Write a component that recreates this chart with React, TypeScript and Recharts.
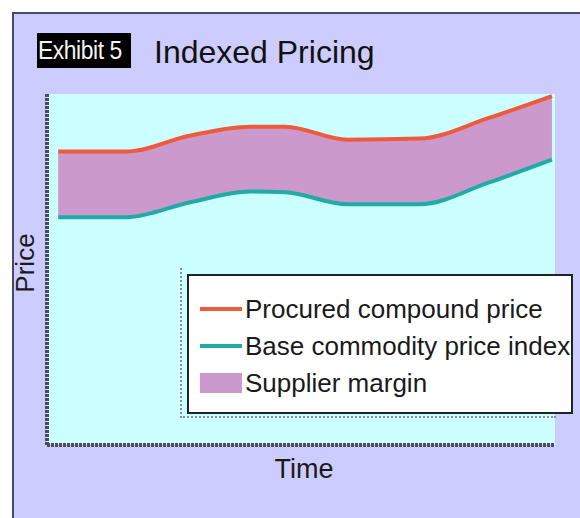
import React from 'react';
import { ComposedChart, Area, Line, XAxis, YAxis, CartesianGrid } from 'recharts';

const timePoints = [2.2, 15.7, 28, 40, 46.9, 59.1, 73.4, 87, 99.4];
const procuredPrice = [83.6, 83.6, 88.1, 90.7, 90.7, 87, 87.3, 93.2, 99.4];
const basePriceIndex = [64.9, 64.9, 69.1, 72.2, 72, 68.6, 68.6, 74.8, 81.3];

const legendItems = [
  { label: 'Procured compound price', kind: 'line', color: '#EE5A3C' },
  { label: 'Base commodity price index', kind: 'line', color: '#22ABA6' },
  { label: 'Supplier margin', kind: 'rect', color: '#CC99CC' },
];

const data = timePoints.map((t, i) => ({
  t,
  upper: procuredPrice[i],
  lower: basePriceIndex[i],
  margin: [basePriceIndex[i], procuredPrice[i]],
}));

const font = '"Liberation Sans", Arial, sans-serif';

const LegendBox = () => (
  <div
    style={{
      position: 'absolute',
      left: 187,
      top: 274,
      width: 382,
      height: 136,
      background: '#FFFFFF',
      border: '2px solid #222',
      fontFamily: font,
      fontSize: 26,
      color: '#1a1a1a',
      boxSizing: 'content-box',
    }}
  >
    {legendItems.map((it, i) => (
      <div
        key={it.label}
        style={{
          position: 'absolute',
          left: 11,
          top: 18 + i * 37,
          height: 30,
          display: 'flex',
          alignItems: 'center',
          whiteSpace: 'nowrap',
        }}
      >
        {it.kind === 'line' ? (
          <div style={{ width: 42, height: 4, background: it.color, marginRight: 3 }} />
        ) : (
          <div style={{ width: 42, height: 20, background: it.color, marginRight: 3 }} />
        )}
        <span>{it.label}</span>
      </div>
    ))}
  </div>
);

export default function App() {
  return (
    <div style={{ position: 'absolute', left: 0, top: 0, width: 580, height: 518, background: '#fff', overflow: 'hidden' }}>
      <div
        style={{
          position: 'absolute',
          left: 12,
          top: 12,
          width: 568,
          height: 506,
          background: '#CCCCFF',
          borderLeft: '2px solid #4A4A66',
          borderTop: '2px solid #4A4A66',
        }}
      />
      <div
        style={{
          position: 'absolute',
          left: 37,
          top: 33,
          width: 94,
          height: 35,
          background: '#000',
          color: '#f4f4f4',
          fontFamily: font,
          fontSize: 26,
          lineHeight: '35px',
          overflow: 'hidden',
        }}
      >
        <span style={{ display: 'inline-block', transform: 'scaleX(0.88)', transformOrigin: 'left center', whiteSpace: 'nowrap', letterSpacing: -0.5, marginLeft: 1 }}>
          Exhibit 5
        </span>
      </div>
      <div
        style={{
          position: 'absolute',
          left: 154,
          top: 32,
          fontFamily: font,
          fontSize: 32,
          lineHeight: '40px',
          color: '#111',
          whiteSpace: 'nowrap',
        }}
      >
        Indexed Pricing
      </div>
      <div style={{ position: 'absolute', left: 0, top: 0 }}>
        <ComposedChart width={580} height={518} data={data} margin={{ top: 94, left: 46, right: 25, bottom: 72 }}>
          <CartesianGrid fill="#CCFFFF" vertical={false} horizontal={false} />
          <XAxis
            type="number"
            dataKey="t"
            domain={[0, 100]}
            tick={false}
            tickLine={false}
            height={1}
            axisLine={{ stroke: '#4A4A58', strokeWidth: 4, strokeDasharray: '3 1' }}
          />
          <YAxis
            type="number"
            domain={[0, 100]}
            allowDataOverflow
            tick={false}
            tickLine={false}
            width={1}
            axisLine={{ stroke: '#4A4A58', strokeWidth: 4, strokeDasharray: '3 1' }}
          />
          <Area type="monotone" dataKey="margin" fill="#CC99CC" fillOpacity={1} stroke="none" isAnimationActive={false} />
          <Line type="monotone" dataKey="upper" stroke="#EE5A3C" strokeWidth={4} dot={false} isAnimationActive={false} />
          <Line type="monotone" dataKey="lower" stroke="#22ABA6" strokeWidth={4} dot={false} isAnimationActive={false} />
          <text x={25} y={263} transform="rotate(-90 25 263)" textAnchor="middle" dominantBaseline="central" fontFamily={font} fontSize={26} fill="#1a1a1a">
            Price
          </text>
          <text x={304} y={469} textAnchor="middle" dominantBaseline="central" fontFamily={font} fontSize={27} fill="#1a1a1a">
            Time
          </text>
        </ComposedChart>
      </div>
      <div
        style={{
          position: 'absolute',
          left: 180,
          top: 268,
          width: 374,
          height: 148,
          borderLeft: '2px dotted #8C8C99',
          borderBottom: '2px dotted #8C8C99',
        }}
      />
      <LegendBox />
    </div>
  );
}
